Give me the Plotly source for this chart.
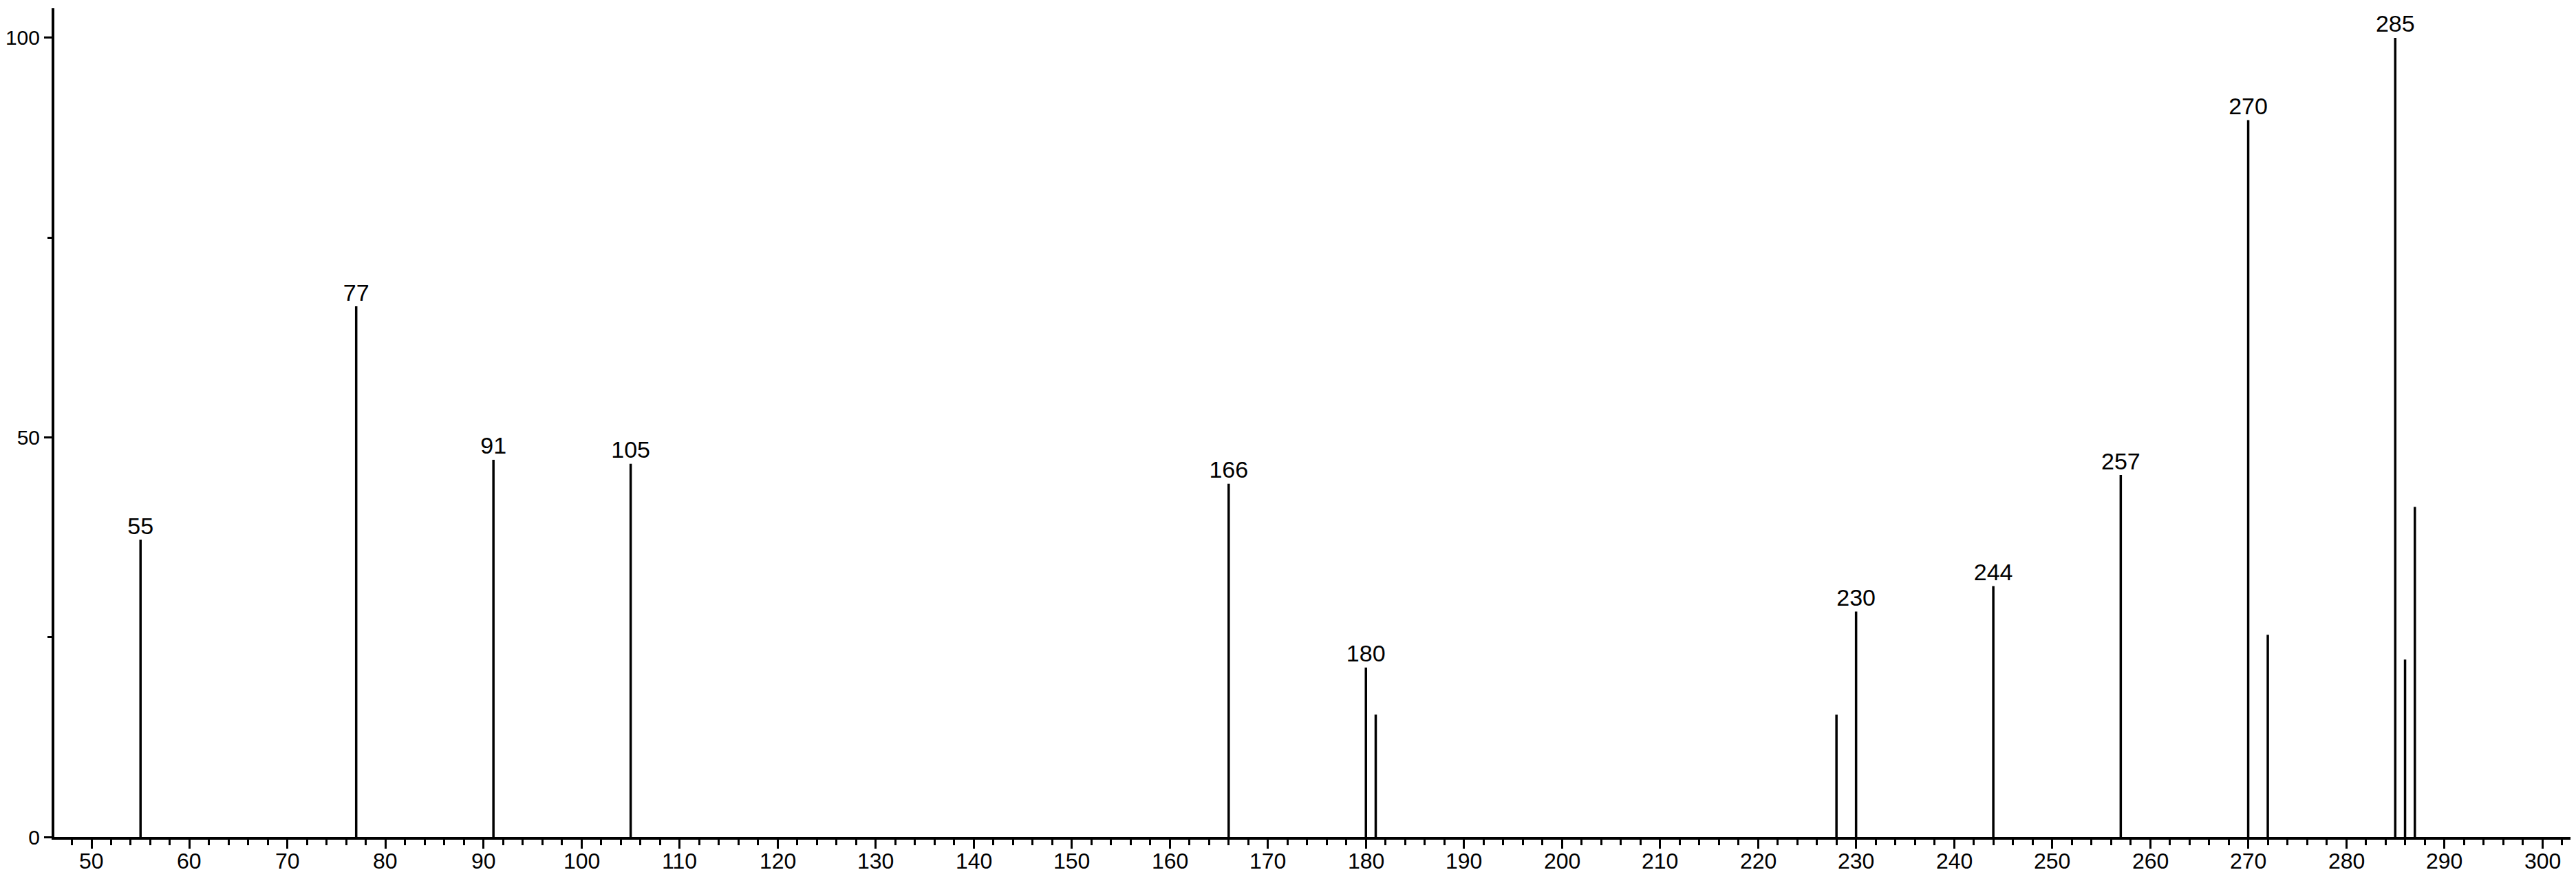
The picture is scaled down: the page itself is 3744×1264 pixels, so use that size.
import plotly.graph_objects as go

# m/z and relative intensity
mz = [55, 77, 91, 105, 166, 180, 181, 228, 230, 244, 257, 270, 272, 285, 286, 287]
intensity = [37.2, 66.4, 47.2, 46.7, 44.2, 21.2, 15.3, 15.3, 28.2, 31.4, 45.3, 89.7, 25.3, 100.0, 22.2, 41.3]
labeled = [55, 77, 91, 105, 166, 180, 230, 244, 257, 270, 285]
x_ticks = [50, 60, 70, 80, 90, 100, 110, 120, 130, 140, 150, 160, 170, 180, 190,
           200, 210, 220, 230, 240, 250, 260, 270, 280, 290, 300]

FONT = "Liberation Sans, Arial, sans-serif"

# stick spectrum: one vertical segment per peak
xs, ys = [], []
for m, h in zip(mz, intensity):
    xs += [m, m, None]
    ys += [0, h, None]

fig = go.Figure()
fig.add_trace(go.Scatter(x=xs, y=ys, mode="lines",
                         line=dict(color="black", width=3.5),
                         hoverinfo="skip", showlegend=False))

lab_x = [m for m in mz if m in labeled]
lab_y = [h for m, h in zip(mz, intensity) if m in labeled]
fig.add_trace(go.Scatter(x=lab_x, y=lab_y, mode="text",
                         text=[str(m) for m in lab_x], textposition="top center",
                         textfont=dict(family=FONT, size=34, color="black"),
                         showlegend=False))

# x tick labels sit very close to the bottom edge, so place them by hand on the x scale
for t in x_ticks:
    fig.add_annotation(x=t, xref="x", y=0, yref="paper", yanchor="bottom",
                       yshift=-55, text=str(t), showarrow=False,
                       font=dict(family=FONT, size=32, color="black"))

fig.update_layout(
    width=3744, height=1264,
    paper_bgcolor="white", plot_bgcolor="white",
    margin=dict(l=71, r=0, t=4, b=56, autoexpand=False),
    font=dict(family=FONT, size=32, color="black"),
    xaxis=dict(range=[46.21, 304.0], tick0=50, dtick=10, showgrid=False, zeroline=False,
               automargin=False, showticklabels=False,
               showline=True, linecolor="black", linewidth=4,
               ticks="outside", ticklen=13, tickwidth=3, tickcolor="black",
               minor=dict(dtick=2, tick0=50, ticks="outside", ticklen=8, tickwidth=3,
                          tickcolor="black", showgrid=False)),
    yaxis=dict(range=[0, 103.7], tick0=0, dtick=50, showgrid=False, zeroline=False,
               automargin=False, tickfont=dict(size=30),
               showline=True, linecolor="black", linewidth=4,
               ticks="outside", ticklen=11, tickwidth=3, tickcolor="black",
               minor=dict(dtick=25, ticks="outside", ticklen=6, tickwidth=3,
                          tickcolor="black", showgrid=False)),
)

fig.write_html("out.html")
